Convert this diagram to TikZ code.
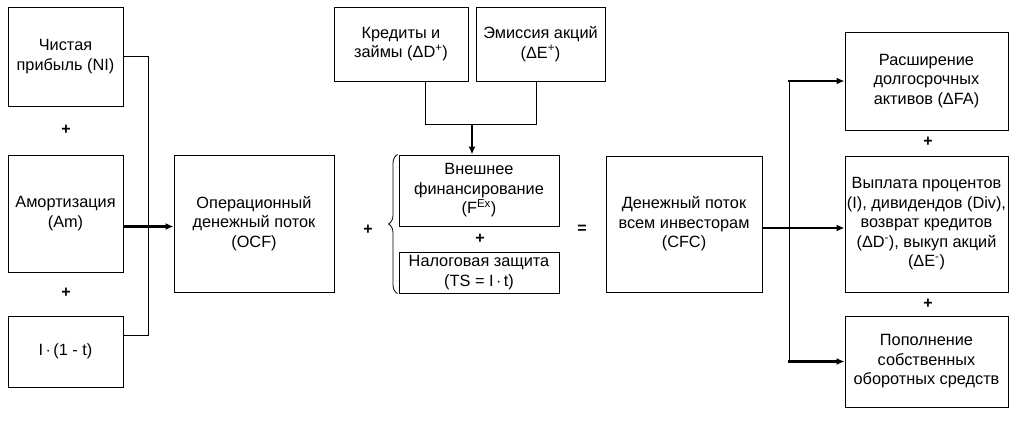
\documentclass[tikz,border=0pt]{standalone}
\usepackage{fontspec}
\setmainfont{Liberation Sans}
\usetikzlibrary{arrows.meta,decorations.pathreplacing}
\begin{document}
\begin{tikzpicture}[x=1pt,y=-1pt,
  box/.style={draw,line width=1pt,rectangle,align=center,inner sep=1pt,
    font=\fontsize{16.3}{19.5}\selectfont},
  conn/.style={line width=0.9pt},
  arr/.style={line width=2.6pt,-{Latex[length=8pt,width=7pt]}},
  sign/.style={font=\fontsize{16}{16}\selectfont\bfseries,inner sep=0pt}]
\useasboundingbox (0,0) rectangle (1024,421);
% left column
\node[box,minimum width=115,minimum height=99] (ni) at (65.5,56.5) {Чистая\\прибыль (NI)};
\node[box,minimum width=115,minimum height=117] (am) at (65.5,213.5) {Амортизация\\(Am)};
\node[box,minimum width=115,minimum height=71] (it) at (65.5,351.5) {I\,$\cdot$\,(1 - t)};
\node[sign] (p1) at (66,130) {+};
\node[sign] (p2) at (66,293) {+};
\node[box,minimum width=160,minimum height=137] (ocf) at (254,223.5) {Операционный\\денежный поток\\(OCF)};
\coordinate (jl) at (148,224);
\draw[conn] (ni.east) -- (ni.east -| jl) -- ([yshift=16.5pt]it.east -| jl) -- ([yshift=16.5pt]it.east);
\draw[arr] ([yshift=-13pt]am.east) -- ([yshift=-13pt]am.east -| ocf.west);
% middle
\node[box,minimum width=134,minimum height=74] (cred) at (401,44) {Кредиты и\\займы (ΔD\textsuperscript{+})};
\node[box,minimum width=129,minimum height=74] (emis) at (540.5,44) {Эмиссия акций\\(ΔE\textsuperscript{+})};
\node[box,minimum width=160,minimum height=71] (fex) at (479,190.5) {Внешнее\\финансирование\\(F\textsuperscript{Ex})};
\node[box,minimum width=160,minimum height=41] (ts) at (479,272.5) {Налоговая защита\\(TS = I\,$\cdot$\,t)};
\node[sign] (p3) at (480,239) {+};
\node[sign] (p4) at (368,230) {+};
\node[sign] (eq) at (582,229) {=};
\coordinate (jm) at (472,124);
\draw[conn] ([xshift=24pt]cred.south) -- ([xshift=24pt]cred.south |- jm) -- ([xshift=-4.5pt]emis.south |- jm) -- ([xshift=-4.5pt]emis.south);
\draw[arr] (jm) -- (jm |- fex.north);
\draw[line width=0.8pt,decorate,decoration={brace,amplitude=9pt}] ([xshift=-1pt]ts.south west) -- ([xshift=-1pt]fex.north west);
% right
\node[box,minimum width=156,minimum height=136] (cfc) at (684,224) {Денежный поток\\всем инвесторам\\(CFC)};
\node[box,minimum width=163,minimum height=98] (fa) at (926.5,81) {Расширение\\долгосрочных\\активов (ΔFA)};
\node[box,minimum width=163,minimum height=136] (div) at (926.5,224) {Выплата процентов\\(I), дивидендов (Div),\\возврат кредитов\\(ΔD\textsuperscript{-}), выкуп акций\\(ΔE\textsuperscript{-})};
\node[box,minimum width=163,minimum height=91] (wc) at (926.5,361.5) {Пополнение\\собственных\\оборотных средств};
\node[sign] (p5) at (928,142) {+};
\node[sign] (p6) at (928,304) {+};
\coordinate (jr) at (789,224);
\draw[conn] (fa.west -| jr) -- (wc.west -| jr);
\draw[arr] ([yshift=-4pt]cfc.east) -- ([yshift=-4pt]div.west);
\draw[arr] ([xshift=-1.5pt]fa.west -| jr) -- (fa.west);
\draw[arr] ([xshift=-1.5pt]wc.west -| jr) -- (wc.west);
\end{tikzpicture}
\end{document}
